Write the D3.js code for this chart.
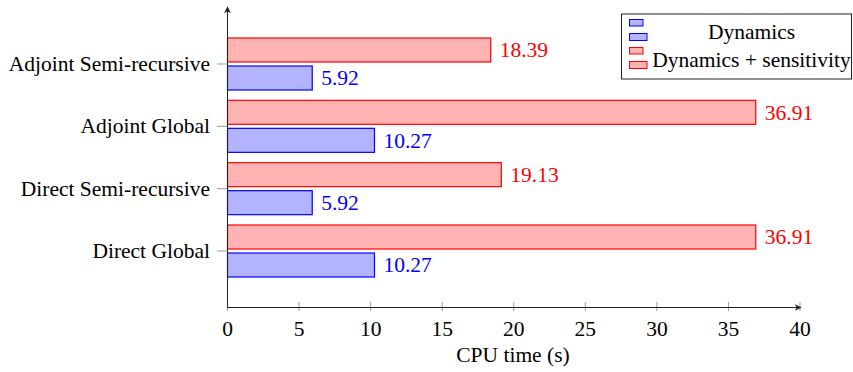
<!DOCTYPE html>
<html>
<head>
<meta charset="utf-8">
<script src="https://cdn.jsdelivr.net/npm/d3@7"></script>
<style>
  body { margin: 0; background: #fff; }
  text { font-family: "Liberation Serif", "DejaVu Serif", serif; }
</style>
</head>
<body>
<div class="chart"></div>
<script>
// chart size
const w = 853
const h = 372

// data, top to bottom
const categories = ["Adjoint Semi-recursive", "Adjoint Global", "Direct Semi-recursive", "Direct Global"]
const dynamics = [5.92, 10.27, 5.92, 10.27]
const sensitivity = [18.39, 36.91, 19.13, 36.91]
const xTicks = [0, 5, 10, 15, 20, 25, 30, 35, 40]
const seriesNames = ["Dynamics", "Dynamics + sensitivity"]

const svg = d3.select(".chart")
  .append("svg")
    .attr("width", w)
    .attr("height", h)

const x = d3.scaleLinear()
  .domain([0, 40])
  .range([227.5, 800])

const y = d3.scalePoint()
  .domain(categories)
  .range([64, 251])

const axisY = 307.5
const fs = 21.5

// arrow marker
svg.append("defs").append("marker")
    .attr("id", "arr")
    .attr("viewBox", "0 0 10 10")
    .attr("refX", 9).attr("refY", 5)
    .attr("markerWidth", 7).attr("markerHeight", 7)
    .attr("orient", "auto")
  .append("path")
    .attr("d", "M0,0 L10,5 L0,10 L3,5 Z")
    .attr("fill", "#222")

// x ticks
svg.append("g").selectAll("line")
  .data(xTicks)
  .join("line")
    .attr("x1", d => x(d)).attr("x2", d => x(d))
    .attr("y1", axisY - 5.5).attr("y2", axisY + 3.5)
    .attr("stroke", "#999").attr("stroke-width", 1)

svg.append("g").selectAll("text")
  .data(xTicks)
  .join("text")
    .attr("x", d => x(d))
    .attr("y", axisY + 28)
    .attr("text-anchor", "middle")
    .attr("font-size", fs)
    .text(d => d)

// y ticks
svg.append("g").selectAll("line")
  .data(categories)
  .join("line")
    .attr("x1", 217).attr("x2", 228)
    .attr("y1", d => y(d)).attr("y2", d => y(d))
    .attr("stroke", "#999").attr("stroke-width", 1)

svg.append("g").selectAll("text")
  .data(categories)
  .join("text")
    .attr("x", 210)
    .attr("y", d => y(d))
    .attr("dy", "0.32em")
    .attr("text-anchor", "end")
    .attr("font-size", fs)
    .text(d => d)

// bars
const rows = categories.map((c, i) => ({ c, dyn: dynamics[i], sens: sensitivity[i] }))

const series = [
  { key: "sens", off: -26, fill: "#ffb3b3", stroke: "#ff0000" },
  { key: "dyn", off: 2, fill: "#b3b3ff", stroke: "#0000ff" }
]

series.forEach(s => {
  const g = svg.append("g")
  g.selectAll("rect")
    .data(rows)
    .join("rect")
      .attr("x", x(0))
      .attr("y", d => y(d.c) + s.off)
      .attr("width", d => x(d[s.key]) - x(0))
      .attr("height", 24)
      .attr("fill", s.fill)
      .attr("stroke", s.stroke)
      .attr("stroke-width", 1.2)
  g.selectAll("text")
    .data(rows)
    .join("text")
      .attr("x", d => x(d[s.key]) + 9)
      .attr("y", d => y(d.c) + s.off + 12)
      .attr("dy", "0.34em")
      .attr("font-size", fs)
      .attr("fill", s.stroke)
      .text(d => d[s.key].toFixed(2))
})

// axes lines
svg.append("line")
  .attr("x1", x(0)).attr("x2", 801)
  .attr("y1", axisY).attr("y2", axisY)
  .attr("stroke", "#222").attr("stroke-width", 1)
  .attr("marker-end", "url(#arr)")

svg.append("line")
  .attr("x1", x(0)).attr("x2", x(0))
  .attr("y1", axisY).attr("y2", 7)
  .attr("stroke", "#222").attr("stroke-width", 1)
  .attr("marker-end", "url(#arr)")

// x label
svg.append("text")
  .attr("x", 513)
  .attr("y", 362)
  .attr("text-anchor", "middle")
  .attr("font-size", fs)
  .text("CPU time (s)")

// legend
const lg = svg.append("g")
lg.append("rect")
  .attr("x", 621.5).attr("y", 14)
  .attr("width", 230).attr("height", 65)
  .attr("fill", "#fff").attr("stroke", "#222").attr("stroke-width", 1)

const legendItems = [
  { name: seriesNames[0], fill: "#b3b3ff", stroke: "#0000ff", y0: 19.5 },
  { name: seriesNames[1], fill: "#ffb3b3", stroke: "#ff0000", y0: 47.5 }
]

legendItems.forEach(it => {
  lg.append("rect")
    .attr("x", 629.5).attr("y", it.y0)
    .attr("width", 13.5).attr("height", 6.5)
    .attr("fill", it.fill).attr("stroke", it.stroke)
  lg.append("rect")
    .attr("x", 629.5).attr("y", it.y0 + 14)
    .attr("width", 17.5).attr("height", 7)
    .attr("fill", it.fill).attr("stroke", it.stroke)
  lg.append("text")
    .attr("x", 751.5)
    .attr("y", it.y0 + 19)
    .attr("text-anchor", "middle")
    .attr("font-size", fs)
    .text(it.name)
})
</script>
</body>
</html>
